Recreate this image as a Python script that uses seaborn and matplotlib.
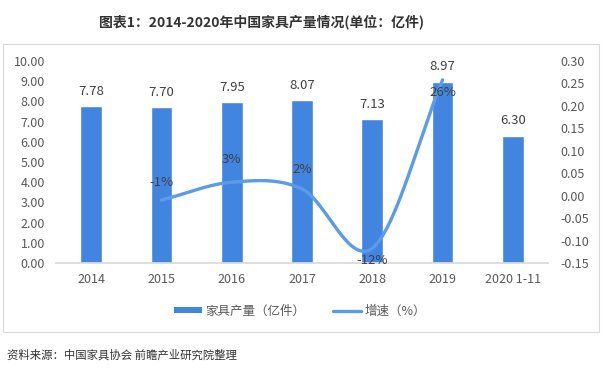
import numpy as np
import pandas as pd
import matplotlib
matplotlib.use("Agg")
import matplotlib.pyplot as plt
from matplotlib.patches import Rectangle, Patch
from matplotlib.lines import Line2D
import seaborn as sns

# data
years = ["2014", "2015", "2016", "2017", "2018", "2019", "2020 1-11"]
output = [7.78, 7.70, 7.95, 8.07, 7.13, 8.97, 6.30]
growth_years = ["2015", "2016", "2017", "2018", "2019"]
growth = [-0.01, 0.03, 0.015, -0.117, 0.258]
growth_labels = ["-1%", "3%", "2%", "-12%", "26%"]

BAR_COLOR = "#4285E0"
LINE_COLOR = "#5B9BE8"
TEXT_COLOR = "#595959"

sns.set_theme(style="white")
plt.rcParams["font.family"] = ["Noto Sans CJK SC", "DejaVu Sans"]


def smooth_curve(xs, ys, n=40):
    """Catmull-Rom smoothing, like the 'smoothed line' option of office charts."""
    xs = np.asarray(xs, float)
    ys = np.asarray(ys, float)
    px = np.concatenate([[2 * xs[0] - xs[1]], xs, [2 * xs[-1] - xs[-2]]])
    py = np.concatenate([[2 * ys[0] - ys[1]], ys, [2 * ys[-1] - ys[-2]]])
    out_x, out_y = [], []
    t = np.linspace(0, 1, n)
    for i in range(1, len(px) - 2):
        for p, out in ((px, out_x), (py, out_y)):
            p0, p1, p2, p3 = p[i - 1], p[i], p[i + 1], p[i + 2]
            c = 0.5 * ((2 * p1) + (-p0 + p2) * t + (2 * p0 - 5 * p1 + 4 * p2 - p3) * t ** 2
                       + (-p0 + 3 * p1 - 3 * p2 + p3) * t ** 3)
            out.extend(c)
    return np.array(out_x), np.array(out_y)


fig = plt.figure(figsize=(6.04, 3.76), dpi=100)
W, H = 604, 376

# light frame around the chart area
fig.patches.append(Rectangle((3 / W, 1 - 332 / H), 596 / W, 288 / H, transform=fig.transFigure,
                             fill=False, edgecolor="#D9D9D9", linewidth=0.8))

ax = fig.add_axes([56 / W, 1 - 263 / H, 492 / W, 202 / H])
df = pd.DataFrame({"year": years, "output": output})
sns.barplot(data=df, x="year", y="output", color=BAR_COLOR, width=0.31, saturation=1, ax=ax)
ax.set_xlim(-0.5, len(years) - 0.5)
ax.set_ylim(0, 10)
ax.set_yticks(np.arange(0, 10.01, 1))
ax.set_yticklabels([f"{v:.2f}" for v in np.arange(0, 10.01, 1)])
ax.set_xlabel("")
ax.set_ylabel("")
for s in ["top", "right", "left"]:
    ax.spines[s].set_visible(False)
ax.spines["bottom"].set_color("#D9D9D9")
ax.tick_params(axis="both", length=0, labelsize=9, labelcolor=TEXT_COLOR)
ax.tick_params(axis="y", pad=8)
ax.tick_params(axis="x", pad=7)

for i, v in enumerate(output):
    ax.annotate(f"{v:.2f}", (i, v), xytext=(0, 6), textcoords="offset points",
                ha="center", va="bottom", fontsize=9.5, color="#404040")

ax2 = ax.twinx()
gx = [years.index(y) for y in growth_years]
cx, cy = smooth_curve(gx, growth)
ax2.plot(cx, cy, color=LINE_COLOR, linewidth=2.4, solid_capstyle="round")
ax2.set_ylim(-0.15, 0.30)
ticks2 = np.round(np.arange(-0.15, 0.301, 0.05), 2)
ax2.set_yticks(ticks2)
ax2.set_yticklabels([f"{v:.2f}" for v in ticks2])
for s in ["top", "right", "left", "bottom"]:
    ax2.spines[s].set_visible(False)
ax2.tick_params(axis="y", length=0, labelsize=9, labelcolor=TEXT_COLOR, pad=9)
ax2.grid(False)

offsets = [13, 16, 14, -9, -9]
for x, v, lab, off in zip(gx, growth, growth_labels, offsets):
    ax2.annotate(lab, (x, v), xytext=(0, off), textcoords="offset points",
                 ha="center", va="center", fontsize=9.5, color="#404040")

handles = [Patch(facecolor=BAR_COLOR, edgecolor="none"),
           Line2D([0], [0], color=LINE_COLOR, linewidth=2.4)]
fig.legend(handles, ["家具产量（亿件）", "增速（%）"], loc="center", bbox_to_anchor=(300 / W, 1 - 311 / H),
           ncol=2, frameon=False, fontsize=9, handlelength=2.2, handleheight=0.45,
           columnspacing=2.2, handletextpad=0.3, labelcolor=TEXT_COLOR)

fig.text(261 / W, 1 - 22 / H, "图表1：2014-2020年中国家具产量情况(单位：亿件)", ha="center", va="center",
         fontsize=10, fontweight="bold", color="#333333")
fig.text(7 / W, 1 - 355 / H, "资料来源：中国家具协会 前瞻产业研究院整理", ha="left", va="center",
         fontsize=8.2, color="#333333")

fig.savefig("out.png", dpi=100)
